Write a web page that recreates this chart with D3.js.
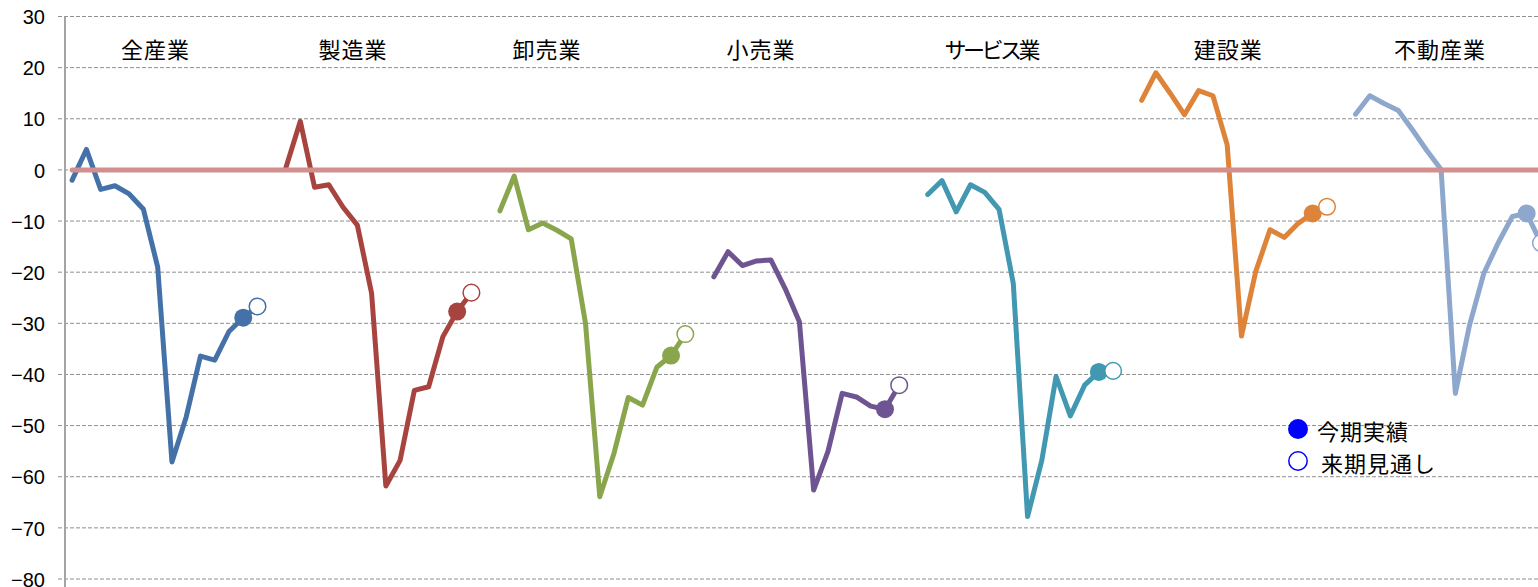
<!DOCTYPE html>
<html lang="ja">
<head>
<meta charset="utf-8">
<script src="https://cdn.jsdelivr.net/npm/d3@7/dist/d3.min.js"></script>
<style>
  html, body { margin: 0; padding: 0; background: #fff; }
  svg { display: block; }
</style>
</head>
<body>
<svg id="chart" width="1538" height="587"></svg>
<script>
// 業況判断DI（業種別）：各業種 13期の実績 ＋ 来期見通し
const industries = ["全産業", "製造業", "卸売業", "小売業", "サービス業", "建設業", "不動産業"];

const actualAll      = [-2.0, 4.0, -3.8, -3.1, -4.7, -7.7, -19.0, -57.1, -48.3, -36.4, -37.2, -31.6, -28.9];
const actualMfg      = [0.5, 9.5, -3.4, -2.9, -7.3, -10.8, -24.1, -61.8, -56.8, -43.1, -42.4, -32.6, -27.7];
const actualWholesale= [-8.0, -1.2, -11.7, -10.4, -11.8, -13.5, -30.0, -63.9, -55.4, -44.5, -46.0, -38.6, -36.3];
const actualRetail   = [-20.9, -16.0, -18.7, -17.8, -17.6, -23.2, -29.7, -62.6, -55.1, -43.7, -44.4, -46.2, -46.8];
const actualService  = [-4.8, -2.1, -8.2, -2.9, -4.4, -7.7, -22.2, -67.8, -56.8, -40.4, -48.1, -42.1, -39.5];
const actualConstr   = [13.6, 19.0, 15.0, 10.8, 15.5, 14.5, 4.9, -32.5, -19.9, -11.7, -13.2, -10.4, -8.5];
const actualRealty   = [10.9, 14.5, 13.0, 11.6, 7.8, 3.8, 0.1, -43.7, -30.3, -20.2, -14.3, -9.1, -8.5];

// 来期見通し
const outlook = [-26.7, -24.0, -32.1, -42.1, -39.3, -7.2, -14.3];

const yTicks = [30, 20, 10, 0, -10, -20, -30, -40, -50, -60, -70, -80];
const legendLabels = ["今期実績", "来期見通し"];

const actuals = [actualAll, actualMfg, actualWholesale, actualRetail, actualService, actualConstr, actualRealty];
const colors = ["#4472A8", "#A8443F", "#89A64C", "#6E5591", "#4298B0", "#DE843A", "#8EA7CC"];

// layout
const W = 1538, H = 587;
const plotLeft = 65, plotTop = 16.5, plotBottom = 579;
const slotW = 14.26;
const slotsPerGroup = 15;            // 13 実績 + 見通し + 空き1
const nSlots = industries.length * slotsPerGroup;
// 業種名の水平位置（各業種の先頭点から何スロット右か）
const titleShift = [5.85, 4.7, 3.3, 3.3, 4.42, 6.07, 5.93];

const svg = d3.select("#chart");

const x = d3.scaleBand()
  .domain(d3.range(nSlots))
  .range([plotLeft, plotLeft + nSlots * slotW])
  .padding(0);
const cx = k => x(k) + x.bandwidth() / 2;

const y = d3.scaleLinear().domain([-80, 30]).range([plotBottom, plotTop]);

// grid lines
svg.append("g")
  .selectAll("line")
  .data(yTicks)
  .join("line")
  .attr("x1", plotLeft - 7)
  .attr("x2", W)
  .attr("y1", d => y(d))
  .attr("y2", d => y(d))
  .attr("stroke", "#8f8f8f")
  .attr("stroke-width", 1)
  .attr("stroke-dasharray", "4,2");

// y axis
const yAxis = d3.axisLeft(y).tickValues(yTicks).tickSize(0).tickPadding(20);
const gAxis = svg.append("g").attr("transform", `translate(${plotLeft},0)`).call(yAxis);
gAxis.select(".domain").remove();
gAxis.selectAll("text")
  .attr("font-family", "'Liberation Sans', Arial, sans-serif")
  .attr("font-size", 20)
  .attr("fill", "#000")
  .attr("dy", "0.36em");
svg.append("line")
  .attr("x1", plotLeft).attr("x2", plotLeft)
  .attr("y1", plotTop).attr("y2", H)
  .attr("stroke", "#a4a4a4")
  .attr("stroke-width", 2);

// series lines
const line = d3.line().x(d => cx(d.slot)).y(d => y(d.v));
const seriesData = industries.map((name, g) => {
  const pts = actuals[g].map((v, i) => ({ slot: g * slotsPerGroup + i, v }));
  const last = pts[pts.length - 1];
  const next = { slot: last.slot + 1, v: outlook[g] };
  return { name, color: colors[g], pts, last, next };
});

const gSeries = svg.append("g");
gSeries.selectAll("path")
  .data(seriesData)
  .join("path")
  .attr("d", d => line([...d.pts, d.next]))
  .attr("fill", "none")
  .attr("stroke", d => d.color)
  .attr("stroke-width", 5)
  .attr("stroke-linejoin", "round")
  .attr("stroke-linecap", "round");

// zero line
svg.append("line")
  .attr("x1", cx(0))
  .attr("x2", cx(nSlots - 1))
  .attr("y1", y(0))
  .attr("y2", y(0))
  .attr("stroke", "#D38E8E")
  .attr("stroke-width", 5)
  .attr("stroke-linecap", "round");

// markers: 今期実績 (filled) / 来期見通し (open)
svg.append("g").selectAll("circle")
  .data(seriesData)
  .join("circle")
  .attr("cx", d => cx(d.last.slot))
  .attr("cy", d => y(d.last.v))
  .attr("r", 9)
  .attr("fill", d => d.color);

svg.append("g").selectAll("circle")
  .data(seriesData)
  .join("circle")
  .attr("cx", d => cx(d.next.slot))
  .attr("cy", d => y(d.next.v))
  .attr("r", 8.3)
  .attr("fill", "#fff")
  .attr("stroke", d => d.color)
  .attr("stroke-width", 1.5);

// industry titles (katakana set tighter, as in a proportional gothic face)
svg.append("g").selectAll("text")
  .data(industries)
  .join("text")
  .attr("x", (d, g) => cx(g * slotsPerGroup) + titleShift[g] * slotW)
  .attr("y", 48)
  .attr("text-anchor", "middle")
  .attr("dominant-baseline", "central")
  .attr("font-family", "'Noto Sans CJK JP', sans-serif")
  .attr("font-size", 22)
  .attr("letter-spacing", d => /[\u30A0-\u30FF]/.test(d) ? -3.5 : 1)
  .attr("fill", "#000")
  .text(d => d);

// legend
const legend = svg.append("g").attr("transform", "translate(1298,429)");
legendLabels.forEach((label, i) => {
  const row = legend.append("g").attr("transform", `translate(0,${i * 32})`);
  row.append("circle")
    .attr("r", i === 0 ? 10 : 9.2)
    .attr("fill", i === 0 ? "#0000FF" : "#fff")
    .attr("stroke", "#0000FF")
    .attr("stroke-width", i === 0 ? 0 : 1.5);
  row.append("text")
    .attr("x", i === 0 ? 19 : 23)
    .attr("y", 1)
    .attr("dominant-baseline", "central")
    .attr("font-family", "'Noto Sans CJK JP', sans-serif")
    .attr("font-size", 22)
    .attr("letter-spacing", 1)
    .attr("fill", "#000")
    .text(label);
});
</script>
</body>
</html>
